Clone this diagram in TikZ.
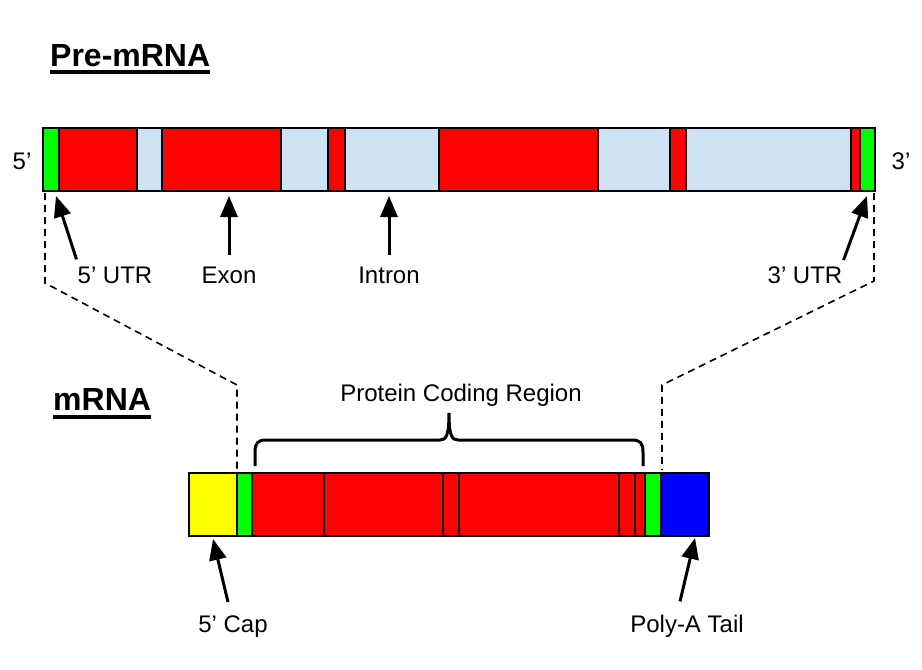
\documentclass[tikz,border=0pt]{standalone}
\usepackage{fontspec}
\setmainfont{Liberation Sans}
\usepackage{tikz}
\usetikzlibrary{arrows.meta}

\definecolor{exonred}{HTML}{FF0000}
\definecolor{intronblue}{HTML}{CFE2F3}
\definecolor{utrgreen}{HTML}{00FF00}
\definecolor{capyellow}{HTML}{FFFF00}
\definecolor{tailblue}{HTML}{0000FF}

\tikzset{
  seg/.style={draw=black, line width=1.3pt},
  lbl/.style={anchor=base, inner sep=0pt, font=\fontsize{24}{28}\selectfont},
  ttl/.style={anchor=base west, inner sep=0pt, font=\fontsize{32}{36}\selectfont\bfseries},
  pointer/.style={line width=3pt, -{Triangle[length=21pt,width=17pt]}},
  zoomline/.style={line width=1.6pt, dash pattern=on 7pt off 5pt},
}

\begin{document}
\begin{tikzpicture}[x=1pt, y=-1pt]
  \useasboundingbox (0,0) rectangle (922,670);
  % titles
  \node[ttl] (pre) at (50,66) {Pre-mRNA};
  \node[ttl] (mat) at (53,410) {mRNA};
  \draw[line width=3.2pt] ([yshift=-6pt]pre.base west) -- ([yshift=-6pt]pre.base east);
  \draw[line width=3.2pt] ([yshift=-7pt]mat.base west) -- ([yshift=-7pt]mat.base east);

  % pre-mRNA
  \draw[seg, fill=intronblue] (137,128) rectangle (162,191) (281,128) rectangle (328,191) (345,128) rectangle (439,191) (598,128) rectangle (670,191) (686,128) rectangle (851,191);
  \draw[seg, fill=exonred] (59,128) rectangle (137,191) (162,128) rectangle (281,191) (328,128) rectangle (345,191) (439,128) rectangle (598,191) (670,128) rectangle (686,191) (851,128) rectangle (860,191);
  \draw[seg, fill=utrgreen] (43,128) rectangle (59,191) (860,128) rectangle (875,191);
  \node[lbl] (end5) at (22,169) {5’};
  \node[lbl] (end3) at (901,169) {3’};

  % mRNA
  \draw[seg, fill=capyellow] (189,473) rectangle (237,536);
  \draw[seg, fill=utrgreen] (237,473) rectangle (252,536) (645,473) rectangle (661,536);
  \draw[seg, fill=exonred] (252,473) rectangle (324,536) (324,473) rectangle (443,536) (443,473) rectangle (459,536) (459,473) rectangle (619,536) (619,473) rectangle (635,536) (635,473) rectangle (645,536);
  \draw[seg, fill=tailblue] (661,473) rectangle (709,536);

  % dashed guides
  \coordinate (preL) at (45,193);
  \coordinate (preR) at (874,193);
  \coordinate (matL) at (237,470);
  \coordinate (matR) at (662,470);
  \draw[zoomline] (preL) -- (45,283) -- (237,385) -- (matL);
  \draw[zoomline] (preR) -- (874,281) -- (662,385) -- (matR);

  % labels and pointers
  \node[lbl] (utr5) at (115,283) {5’ UTR};
  \node[lbl] (exon) at (229,283) {Exon};
  \node[lbl] (intron) at (389,283) {Intron};
  \node[lbl] (utr3) at (805,283) {3’ UTR};
  \node[lbl] (cap) at (233,632) {5’ Cap};
  \node[lbl] (polya) at (687,632) {Poly-A Tail};
  \coordinate (utr5tip) at (56,196);
  \coordinate (exontip) at (229,196);
  \coordinate (introntip) at (389,196);
  \coordinate (utr3tip) at (867,196);
  \coordinate (captip) at (213,539);
  \coordinate (polyatip) at (695,538);
  \draw[pointer] ([shift={(-1pt,7pt)}]utr5.north west) -- (utr5tip);
  \draw[pointer] ([yshift=11pt]exon.north) -- (exontip);
  \draw[pointer] ([yshift=11pt]intron.north) -- (introntip);
  \draw[pointer] ([shift={(1pt,6pt)}]utr3.north east) -- (utr3tip);
  \draw[pointer] ([shift={(-5pt,13pt)}]cap.north) -- (captip);
  \draw[pointer] ([shift={(-7pt,13pt)}]polya.north) -- (polyatip);

  % coding region brace
  \node[lbl] (coding) at (461,401) {Protein Coding Region};
  \draw[line width=3pt] (255,466) -- (255,452) .. controls (255,443) and (258,440) .. (266,440) -- (440,440) .. controls (446,440) and (449,436) .. (449,413) .. controls (449,436) and (452,440) .. (458,440) -- (632,440) .. controls (640,440) and (643,443) .. (643,452) -- (643,466);
\end{tikzpicture}
\end{document}
